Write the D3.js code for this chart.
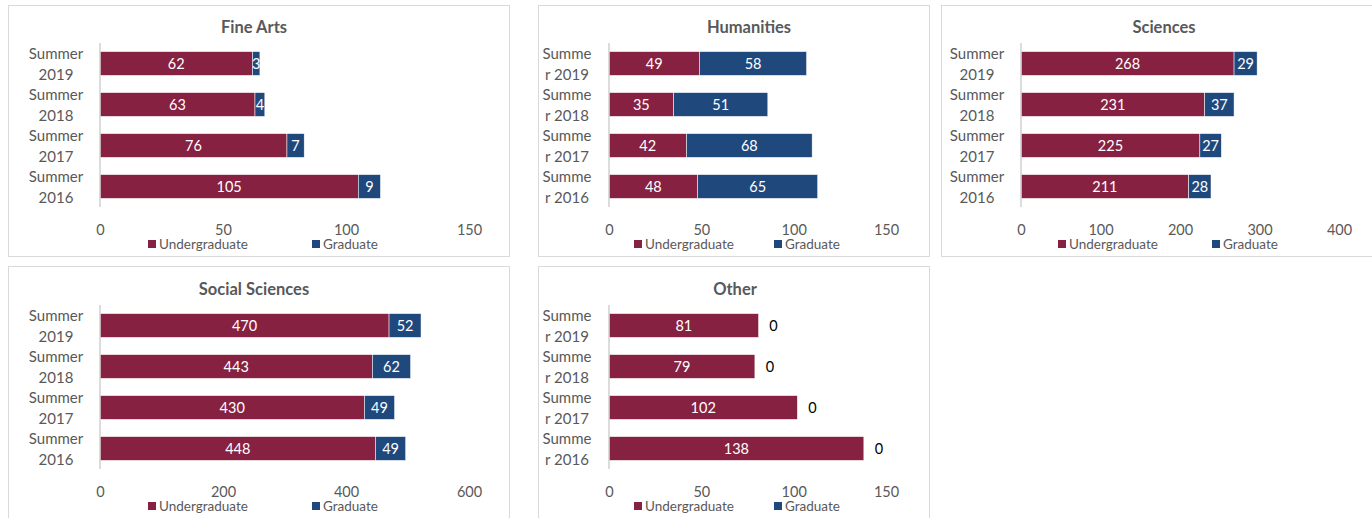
<!DOCTYPE html>
<html><head><meta charset="utf-8">
<script src="https://cdn.jsdelivr.net/npm/d3@7"></script>
<style>
html,body{margin:0;padding:0;background:#fff;}
svg{display:block;font-family:Lato,"Open Sans",sans-serif;}
</style></head>
<body><svg id="c" width="1372" height="518"></svg>
<script>
const years = ["Summer 2019","Summer 2018","Summer 2017","Summer 2016"];
const seriesNames = ["Undergraduate","Graduate"];
const colors = ["#862142","#1F497D"];

const fineArtsUG = [62,63,76,105];
const fineArtsGR = [3,4,7,9];
const humanitiesUG = [49,35,42,48];
const humanitiesGR = [58,51,68,65];
const sciencesUG = [268,231,225,211];
const sciencesGR = [29,37,27,28];
const socialUG = [470,443,430,448];
const socialGR = [52,62,49,49];
const otherUG = [81,79,102,138];
const otherGR = [0,0,0,0];

const ticks150 = [0,50,100,150];
const ticks400 = [0,100,200,300,400];
const ticks600 = [0,200,400,600];

const panels = [
  {title:"Fine Arts", ug:fineArtsUG, gr:fineArtsGR, ticks:ticks150, box:[8,5,501,251], x:[100,469], cx:56, tx:254, wrap:false, leg:[148,312], dy:0},
  {title:"Humanities", ug:humanitiesUG, gr:humanitiesGR, ticks:ticks150, box:[538,5,391,251], x:[609,886], cx:567, tx:749, wrap:true, leg:[634,774], dy:0},
  {title:"Sciences", ug:sciencesUG, gr:sciencesGR, ticks:ticks400, box:[941,5,440,251], x:[1021,1339], cx:977, tx:1164, wrap:false, leg:[1058,1212], dy:0},
  {title:"Social Sciences", ug:socialUG, gr:socialGR, ticks:ticks600, box:[8,266,501,260], x:[100,469], cx:56, tx:254, wrap:false, leg:[148,312], dy:262},
  {title:"Other", ug:otherUG, gr:otherGR, ticks:ticks150, box:[538,266,391,260], x:[609,886], cx:567, tx:735, wrap:true, leg:[634,774], dy:262}
];

const svg = d3.select("#c");
const textCol = "#595959";

panels.forEach(p => {
  const g = svg.append("g");
  g.append("rect").attr("x",p.box[0]+0.5).attr("y",p.box[1]+0.5).attr("width",p.box[2]).attr("height",p.box[3])
    .attr("fill","#fff").attr("stroke","#D9D9D9").attr("stroke-width",1);
  const top = 43 + p.dy, bottom = 207 + p.dy;
  const x = d3.scaleLinear().domain([p.ticks[0], p.ticks[p.ticks.length-1]]).range(p.x);
  const y = d3.scaleBand().domain(years).range([top,bottom]).paddingInner(0.42).paddingOuter(0.21);

  g.append("text").attr("x",p.tx).attr("y",27+p.dy)
    .attr("text-anchor","middle").attr("dominant-baseline","central")
    .attr("font-weight","bold").attr("font-size",16.5).attr("fill",textCol).text(p.title);

  const stacked = years.map((yr,i)=>({yr, ug:p.ug[i], gr:p.gr[i]}));
  stacked.forEach(d => {
    g.append("rect").attr("x",x(0)).attr("y",y(d.yr)).attr("width",x(d.ug)-x(0)).attr("height",y.bandwidth())
      .attr("fill",colors[0]).attr("stroke","#fff").attr("stroke-width",0.5);
    if (d.gr>0) g.append("rect").attr("x",x(d.ug)).attr("y",y(d.yr)).attr("width",x(d.ug+d.gr)-x(d.ug)).attr("height",y.bandwidth())
      .attr("fill",colors[1]).attr("stroke","#fff").attr("stroke-width",0.5);
    const cy = y(d.yr)+y.bandwidth()/2;
    g.append("text").attr("x",(x(0)+x(d.ug))/2).attr("y",cy).attr("text-anchor","middle").attr("dominant-baseline","central")
      .attr("font-size",14.5).attr("fill","#fff").text(d.ug);
    if (d.gr>0) {
      g.append("text").attr("x",(x(d.ug)+x(d.ug+d.gr))/2).attr("y",cy).attr("text-anchor","middle").attr("dominant-baseline","central")
        .attr("font-size",14.5).attr("fill","#fff").text(d.gr);
    } else {
      g.append("text").attr("x",x(d.ug)+15).attr("y",cy).attr("text-anchor","middle").attr("dominant-baseline","central")
        .attr("font-size",14.5).attr("fill","#000").text(d.gr);
    }
    const lines = p.wrap ? ["Summe","r "+d.yr.split(" ")[1]] : d.yr.split(" ");
    lines.forEach((ln,k)=>{
      g.append("text").attr("x",p.cx).attr("y",cy + (k===0?-10.5:10.5)).attr("text-anchor","middle")
        .attr("dominant-baseline","central").attr("font-size",15).attr("fill",textCol).text(ln);
    });
  });

  g.append("line").attr("x1",x(0)).attr("x2",x(0)).attr("y1",top).attr("y2",bottom).attr("stroke","#D0D0D0").attr("stroke-width",1.5);

  const ax = d3.axisBottom(x).tickValues(p.ticks).tickSize(0).tickPadding(0);
  const axg = g.append("g").attr("transform",`translate(0,${229+p.dy})`).call(ax);
  axg.select(".domain").remove();
  axg.selectAll("text").attr("font-size",14.5).attr("fill",textCol).attr("font-family","Lato,'Open Sans',sans-serif")
     .attr("dy",null).attr("y",0).attr("dominant-baseline","central");

  seriesNames.forEach((s,k)=>{
    const lx = p.leg[k];
    g.append("rect").attr("x",lx).attr("y",240+p.dy).attr("width",8).attr("height",8).attr("fill",colors[k]);
    g.append("text").attr("x",lx+11).attr("y",244+p.dy).attr("dominant-baseline","central")
      .attr("font-size",13.5).attr("fill",textCol).text(s);
  });
});
</script>
</body></html>
